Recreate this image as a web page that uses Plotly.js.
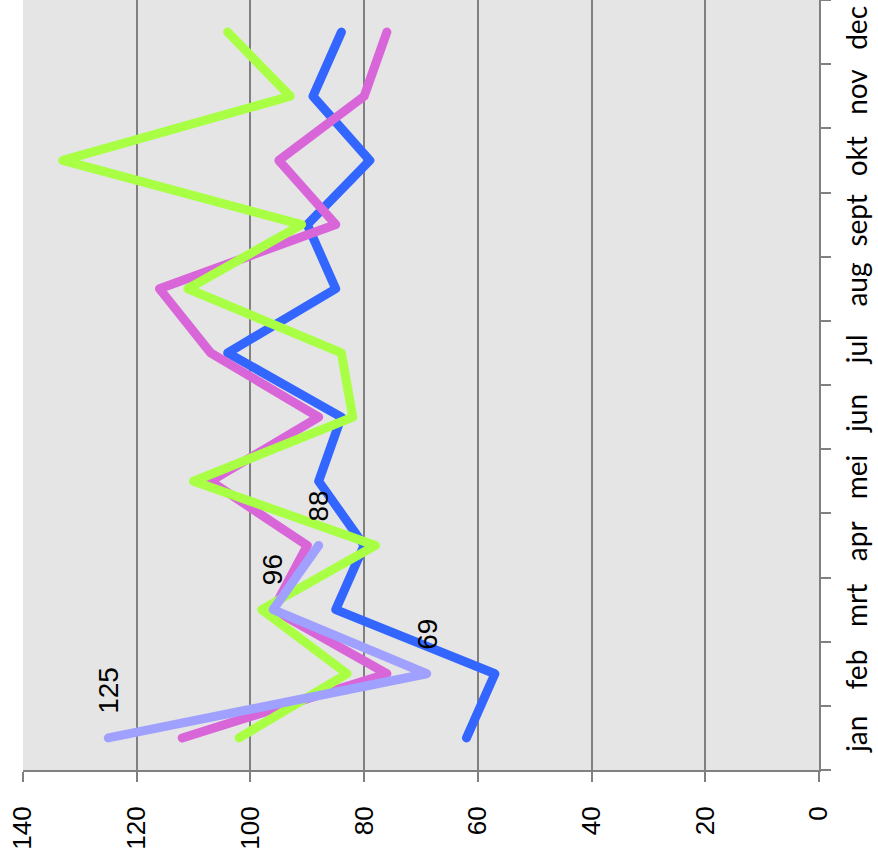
<!DOCTYPE html>
<html>
<head>
<meta charset="utf-8">
<script src="https://cdn.plot.ly/plotly-3.0.1.min.js"></script>
<style>html,body{margin:0;padding:0;background:#fff;}#chart{width:878px;height:861px;}
#chart .scatterlayer path.js-line{stroke-linecap:round;stroke-linejoin:round;}</style>
</head>
<body>
<div id="chart"></div>
<script>
const months = ['jan','feb','mrt','apr','mei','jun','jul','aug','sept','okt','nov','dec'];
const seriesBlue   = [62, 57, 85, 80, 88, 84, 104, 85, 90, 79, 89, 84];
const seriesPink   = [112, 76, 96, 90, 107, 88, 107, 116, 85, 95, 80, 76];
const seriesGreen  = [102, 83, 98, 78, 110, 82, 84, 111, 91, 133, 93, 104];
const seriesPurple = [125, 69, 96, 88];
const purpleMonths = months.slice(0, 4);
const valueTicks = [0, 20, 40, 60, 80, 100, 120, 140];

const mk = (vals, cats, color) => ({
  type: 'scatter', mode: 'lines', x: vals, y: cats,
  line: {color: color, width: 9}, hoverinfo: 'skip', showlegend: false
});

const data = [
  mk(seriesBlue, months, '#3366FF'),
  mk(seriesPink, months, '#D966D9'),
  mk(seriesGreen, months, '#A8FF44'),
  mk(seriesPurple, purpleMonths, '#A0A0FF')
];

const annotations = seriesPurple.map((v, i) => ({
  x: v, y: purpleMonths[i], xref: 'x', yref: 'y',
  text: String(v), showarrow: false, textangle: -90,
  xanchor: 'center', yanchor: 'middle',
  yshift: 24 + String(v).length * 7.8,
  font: {family: 'Liberation Sans, Arial, sans-serif', size: 28, color: '#000'}
}));

const layout = {
  width: 878, height: 861,
  margin: {l: 23, r: 59, t: 0, b: 91, pad: 0},
  paper_bgcolor: '#ffffff',
  plot_bgcolor: '#E5E5E5',
  showlegend: false,
  xaxis: {
    range: [140, 0], tickmode: 'array', tickvals: valueTicks, ticktext: valueTicks.map(String),
    tickangle: -90, ticks: 'outside', ticklen: 10, tickcolor: '#808080', tickwidth: 2,
    showline: true, linecolor: '#808080', linewidth: 2,
    showgrid: true, gridcolor: '#808080', gridwidth: 2, zeroline: false,
    tickfont: {family: 'Liberation Sans, Arial, sans-serif', size: 26, color: '#000'},
    ticklabelstandoff: 14, fixedrange: true
  },
  yaxis: {
    type: 'category', categoryorder: 'array', categoryarray: months,
    range: [-0.5, 11.5], side: 'right',
    tickangle: -90, ticks: 'outside', ticklen: 10, tickcolor: '#808080', tickwidth: 2,
    tickson: 'boundaries',
    showline: true, linecolor: '#808080', linewidth: 2,
    showgrid: false, zeroline: false,
    tickfont: {family: 'Lato, Open Sans, sans-serif', size: 28, color: '#000'},
    ticklabelstandoff: 12, fixedrange: true
  },
  annotations: annotations
};

Plotly.newPlot('chart', data, layout, {displayModeBar: false, staticPlot: true});
</script>
</body>
</html>
